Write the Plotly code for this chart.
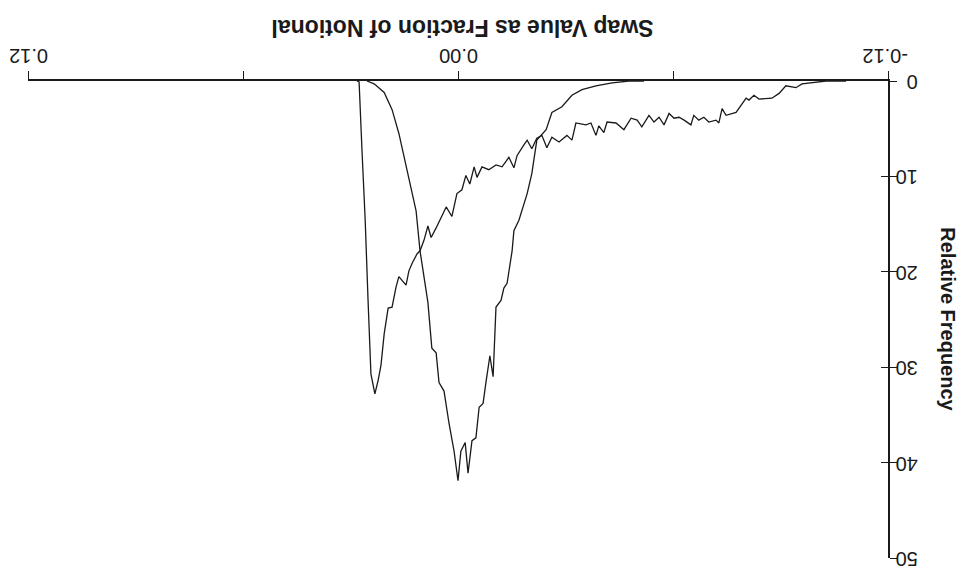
import plotly.graph_objects as go

# Curve A: narrow distribution centred near 0.00
a_x = [0.0254, 0.0234, 0.0206, 0.0184, 0.0165, 0.0151, 0.0137, 0.0117, 0.0106, 0.0095,
       0.0084, 0.0073, 0.0061, 0.0053, 0.0039, 0.0025, 0.0011, 0.0000, -0.0008, -0.0020,
       -0.0028, -0.0039, -0.0050, -0.0059, -0.0070, -0.0078, -0.0089, -0.0098, -0.0106, -0.0120,
       -0.0128, -0.0137, -0.0151, -0.0156, -0.0170, -0.0193, -0.0206, -0.0220, -0.0246, -0.0262,
       -0.0290, -0.0318, -0.0346, -0.0385, -0.0430, -0.0477, -0.0519]
a_y = [0.0, 0.3, 1.2, 3.0, 5.5, 7.8, 10.1, 13.6, 17.8, 20.4,
       23.2, 28.0, 28.5, 31.6, 32.5, 35.9, 38.8, 41.9, 38.8, 37.9,
       41.1, 37.7, 37.4, 34.2, 33.8, 31.6, 28.8, 31.0, 23.7, 23.0,
       21.7, 21.2, 17.8, 15.7, 14.6, 11.8, 9.7, 6.2, 5.1, 3.3,
       2.7, 1.5, 0.9, 0.5, 0.2, 0.0, 0.0]

# Curve B: skewed distribution with long tail to negative values
b_x = [0.0282, 0.0276, 0.0268, 0.0259, 0.0251, 0.0243, 0.0232, 0.0223, 0.0215, 0.0206,
       0.0195, 0.0184, 0.0173, 0.0165, 0.0145, 0.0137, 0.0128, 0.0114, 0.0106, 0.0095,
       0.0084, 0.0075, 0.0061, 0.0047, 0.0033, 0.0017, 0.0003, -0.0011, -0.0022, -0.0033,
       -0.0045, -0.0053, -0.0067, -0.0086, -0.0106, -0.0123, -0.0142, -0.0156, -0.0165, -0.0184,
       -0.0193, -0.0206, -0.0220, -0.0234, -0.0248, -0.0262, -0.0282, -0.0304, -0.0318, -0.0329,
       -0.0357, -0.0371, -0.0385, -0.0393, -0.0407, -0.0416, -0.0441, -0.0463, -0.0483, -0.0500,
       -0.0513, -0.0533, -0.0547, -0.0561, -0.0575, -0.0589, -0.0603, -0.0617, -0.0631, -0.0650,
       -0.0658, -0.0672, -0.0686, -0.0700, -0.0720, -0.0728, -0.0737, -0.0748, -0.0776, -0.0804,
       -0.0812, -0.0826, -0.0840, -0.0876, -0.0896, -0.0915, -0.0932, -0.0943, -0.0960, -0.0988,
       -0.1007, -0.1027, -0.1083]
b_y = [0.0, 0.1, 7.2, 14.6, 23.0, 30.7, 32.8, 31.4, 29.8, 26.5,
       23.8, 23.7, 21.6, 20.5, 21.4, 19.9, 19.1, 18.1, 17.8, 16.7,
       15.2, 16.4, 15.4, 14.3, 13.2, 14.2, 11.8, 11.4, 9.9, 10.8,
       9.0, 10.1, 9.0, 9.3, 8.8, 9.0, 8.0, 9.1, 7.8, 6.7,
       6.2, 7.1, 6.0, 5.7, 7.0, 5.9, 6.4, 5.7, 6.2, 4.4,
       4.6, 4.4, 5.7, 4.7, 5.4, 4.3, 4.4, 5.1, 3.9, 4.1,
       4.8, 3.6, 4.3, 3.8, 4.6, 3.4, 3.9, 3.8, 4.1, 4.6,
       3.6, 4.1, 3.8, 4.3, 4.1, 4.4, 2.9, 3.6, 3.3, 1.8,
       2.0, 1.5, 1.9, 1.8, 1.3, 0.5, 0.6, 0.7, 0.3, 0.2,
       0.1, 0.0, 0.0]

x_tickvals = [0.12, 0.06, 0.0, -0.06, -0.12]
x_ticktext = ["0.12", "", "0.00", "", "-0.12"]
y_tickvals = [0, 10, 20, 30, 40, 50]
y_ticktext = ["0", "10", "20", "30", "40", "50"]

x_title = "Swap Value as Fraction of Notional"
y_title = "Relative Frequency"

FONT = "Liberation Sans, Arial, Helvetica, sans-serif"
INK = "#1a1a1a"

fig = go.Figure()
fig.add_trace(go.Scatter(x=a_x, y=a_y, mode="lines",
                         line=dict(color=INK, width=1.3), showlegend=False))
fig.add_trace(go.Scatter(x=b_x, y=b_y, mode="lines",
                         line=dict(color=INK, width=1.3), showlegend=False))
# invisible trace to register the overlay axis used for crossing ticks
fig.add_trace(go.Scatter(x=[0], y=[0], yaxis="y2", mode="markers",
                         marker=dict(opacity=0), hoverinfo="skip", showlegend=False))

fig.update_layout(
    width=972, height=571,
    margin=dict(l=20, r=92, t=73, b=21, autoexpand=False),
    paper_bgcolor="white", plot_bgcolor="white",
    font=dict(family=FONT, color=INK, size=20),
    xaxis=dict(
        range=[0.12, -0.12], side="top", automargin=False,
        tickvals=x_tickvals, ticktext=x_ticktext, tickangle=180,
        ticklabelshift=-20, ticklabelstandoff=-6, ticklabeloverflow="allow",
        ticks="outside", ticklen=8, tickwidth=1.2, tickcolor=INK,
        showline=True, linecolor=INK, linewidth=1.5,
        showgrid=False, zeroline=False,
        tickfont=dict(family=FONT, size=20, color=INK),
    ),
    yaxis=dict(
        range=[50, 0], side="right", automargin=False,
        tickvals=y_tickvals, ticktext=y_ticktext, tickangle=180,
        ticklabelstandoff=17, ticklabelshift=-7, ticklabeloverflow="allow",
        ticks="outside", ticklen=7, tickwidth=1.2, tickcolor=INK,
        showline=True, linecolor=INK, linewidth=1.5,
        showgrid=False, zeroline=False,
        tickfont=dict(family=FONT, size=20, color=INK),
    ),
    yaxis2=dict(
        range=[50, 0], side="right", overlaying="y", anchor="x", automargin=False,
        tickvals=y_tickvals, ticks="inside", ticklen=7, tickwidth=1.2, tickcolor=INK,
        showticklabels=False, showline=False, showgrid=False, zeroline=False,
    ),
    annotations=[
        dict(text="<b>" + x_title + "</b>", xref="paper", yref="paper",
             x=0.505, y=1.11, xanchor="center", yanchor="middle",
             textangle=180, showarrow=False,
             font=dict(family=FONT, size=23, color=INK)),
        dict(text="<b>" + y_title + "</b>", xref="paper", yref="paper",
             x=1.07, y=0.50, xanchor="center", yanchor="middle",
             textangle=90, showarrow=False,
             font=dict(family=FONT, size=20, color=INK)),
    ],
)

fig.write_html("out.html")
